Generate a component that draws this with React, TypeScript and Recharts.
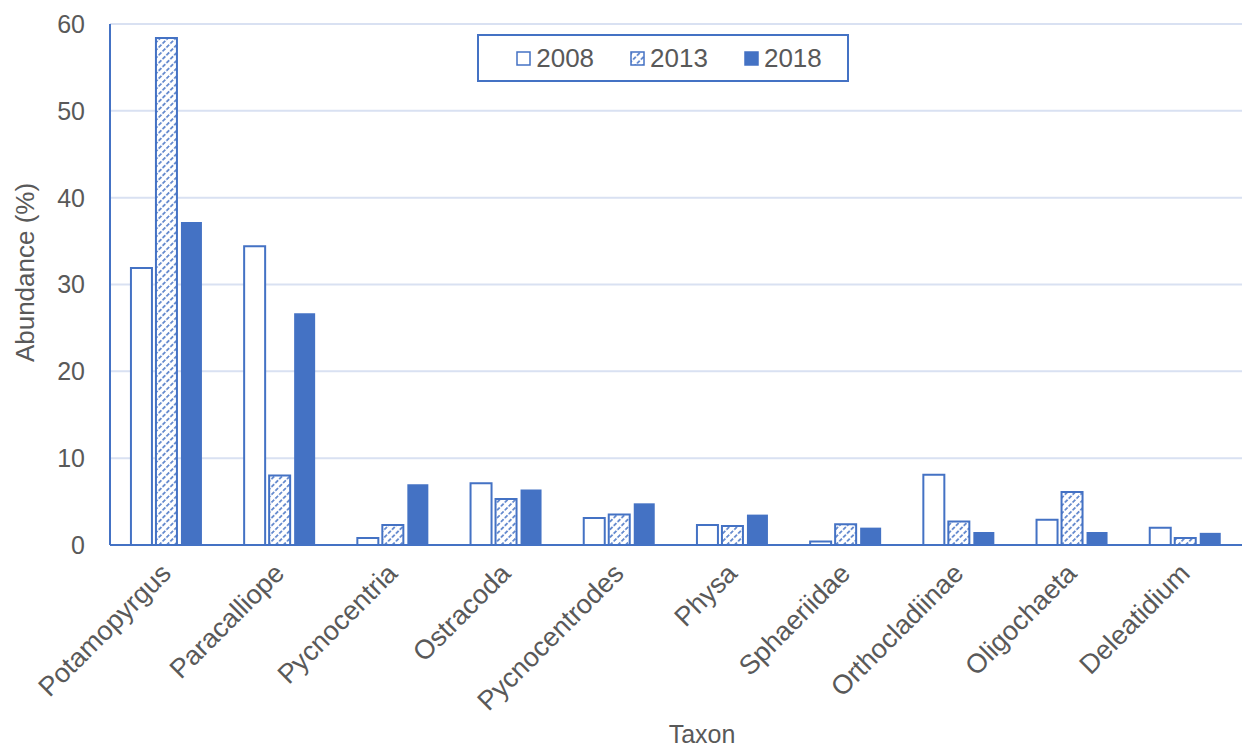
import React from "react";
import {
  BarChart,
  Bar,
  XAxis,
  YAxis,
  CartesianGrid,
  Label,
} from "recharts";

const taxa = [
  "Potamopyrgus",
  "Paracalliope",
  "Pycnocentria",
  "Ostracoda",
  "Pycnocentrodes",
  "Physa",
  "Sphaeriidae",
  "Orthocladiinae",
  "Oligochaeta",
  "Deleatidium",
];
const abundance2008 = [31.9, 34.4, 0.8, 7.1, 3.1, 2.3, 0.4, 8.1, 2.9, 2.0];
const abundance2013 = [58.4, 8.0, 2.3, 5.3, 3.5, 2.2, 2.4, 2.7, 6.1, 0.8];
const abundance2018 = [37.2, 26.7, 7.0, 6.4, 4.8, 3.5, 2.0, 1.5, 1.5, 1.4];
const yTicks = [0, 10, 20, 30, 40, 50, 60];

const BLUE = "#4472c4";
const GREY = "#595959";
const FONT = "'Liberation Sans', Arial, sans-serif";

const data = taxa.map((taxon, i) => ({
  taxon,
  y2008: abundance2008[i],
  y2013: abundance2013[i],
  y2018: abundance2018[i],
}));

// rotated category names, right end tucked under the group centre
const TaxonTick = (props: any) => {
  const { x, y, payload } = props;
  const ax = x + 6;
  const ay = y + 22;
  return (
    <text
      x={ax}
      y={ay}
      transform={`rotate(-45, ${ax}, ${ay})`}
      textAnchor="end"
      fill={GREY}
      fontSize={27}
      fontFamily={FONT}
    >
      {payload.value}
    </text>
  );
};

const legendItems = [
  { name: "2008", fill: "#ffffff" },
  { name: "2013", fill: "url(#hatch)" },
  { name: "2018", fill: BLUE },
];

const LegendBox = () => (
  <div
    style={{
      position: "absolute",
      left: 477,
      top: 34,
      boxSizing: "border-box",
      width: 372,
      height: 48,
      paddingLeft: 12,
      border: `2px solid ${BLUE}`,
      background: "#fff",
      display: "flex",
      alignItems: "center",
      justifyContent: "center",
      gap: 36,
      fontFamily: FONT,
      fontSize: 26,
      color: GREY,
    }}
  >
    {legendItems.map((it) => (
      <div key={it.name} style={{ display: "flex", alignItems: "center", gap: 5 }}>
        <svg width={15} height={15}>
          <rect
            x={1}
            y={1}
            width={13}
            height={13}
            fill={it.fill}
            stroke={BLUE}
            strokeWidth={1.5}
          />
        </svg>
        <span>{it.name}</span>
      </div>
    ))}
  </div>
);

const YTitle = (props: any) => {
  const { viewBox } = props;
  const cy = viewBox.y + viewBox.height / 2 - 12;
  return (
    <text
      x={25}
      y={cy}
      transform={`rotate(-90, 25, ${cy})`}
      textAnchor="middle"
      dominantBaseline="central"
      fill={GREY}
      fontSize={26}
      fontFamily={FONT}
    >
      Abundance (%)
    </text>
  );
};

const XTitle = () => (
  <text
    x={702}
    y={743}
    textAnchor="middle"
    fill={GREY}
    fontSize={25}
    fontFamily={FONT}
  >
    Taxon
  </text>
);

export default function App() {
  return (
    <div
      style={{
        position: "absolute",
        left: 0,
        top: 0,
        width: 1244,
        height: 747,
        background: "#fff",
      }}
    >
      <BarChart
        width={1244}
        height={747}
        data={data}
        margin={{ top: 24, right: 2, bottom: 0, left: 0 }}
        barCategoryGap="18.5%"
        barGap={4}
      >
        <defs>
          {/* dashed upward diagonal hatch for the 2013 series */}
          <pattern
            id="hatch"
            width={5.5}
            height={5.5}
            patternUnits="userSpaceOnUse"
            patternTransform="rotate(45)"
          >
            <rect width={5.5} height={5.5} fill="#fff" />
            <line
              x1={2.75}
              y1={0}
              x2={2.75}
              y2={5.5}
              stroke={BLUE}
              strokeWidth={1.5}
              strokeDasharray="4 1.5"
            />
          </pattern>
        </defs>
        <CartesianGrid vertical={false} stroke="#d9e1f2" strokeWidth={2} />
        <XAxis
          dataKey="taxon"
          interval={0}
          height={202}
          tickLine={false}
          axisLine={{ stroke: BLUE, strokeWidth: 2 }}
          tick={<TaxonTick />}
        >
          <Label content={<XTitle />} />
        </XAxis>
        <YAxis
          width={110}
          domain={[0, 60]}
          ticks={yTicks}
          interval={0}
          tickLine={false}
          tickSize={0}
          tickMargin={25}
          axisLine={{ stroke: BLUE, strokeWidth: 2 }}
          tick={{ fill: GREY, fontSize: 25, fontFamily: FONT }}
        >
          <Label content={<YTitle />} />
        </YAxis>
        <Bar
          dataKey="y2008"
          name="2008"
          fill="#ffffff"
          stroke={BLUE}
          strokeWidth={2}
          isAnimationActive={false}
        />
        <Bar
          dataKey="y2013"
          name="2013"
          fill="url(#hatch)"
          stroke={BLUE}
          strokeWidth={2}
          isAnimationActive={false}
        />
        <Bar
          dataKey="y2018"
          name="2018"
          fill={BLUE}
          isAnimationActive={false}
        />
      </BarChart>
      <LegendBox />
    </div>
  );
}
